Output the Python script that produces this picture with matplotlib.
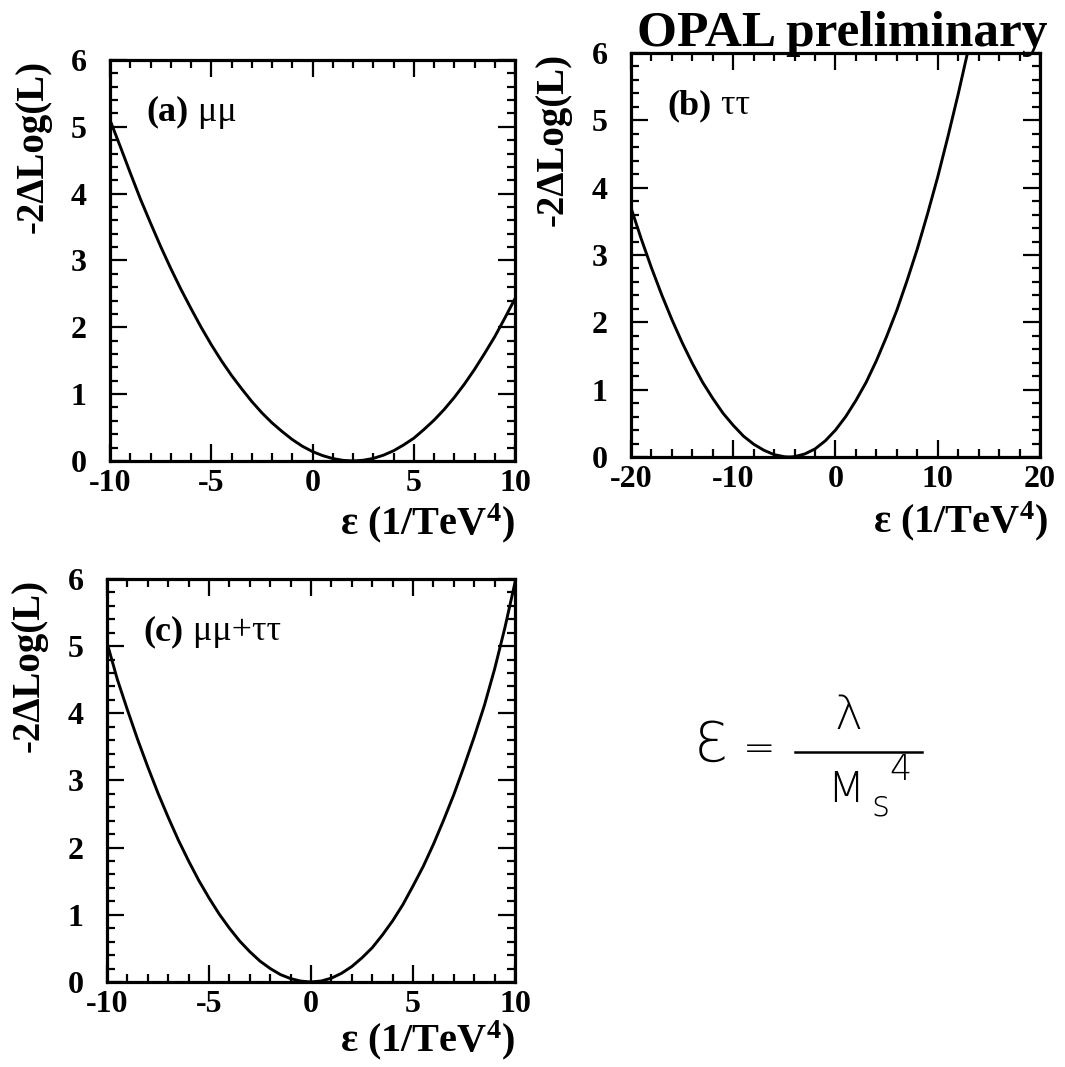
import matplotlib
matplotlib.use('Agg')
import matplotlib.pyplot as plt
from matplotlib.ticker import MultipleLocator
from matplotlib.lines import Line2D

plt.rcParams['font.family'] = ['Liberation Serif', 'DejaVu Serif']
plt.rcParams['font.weight'] = 'bold'
plt.rcParams['axes.unicode_minus'] = False
plt.rcParams['mathtext.fontset'] = 'custom'
plt.rcParams['mathtext.rm'] = 'Liberation Serif:bold'
plt.rcParams['mathtext.it'] = 'Liberation Serif:bold'
plt.rcParams['mathtext.bf'] = 'Liberation Serif:bold'

# -2 delta log(L) scans versus epsilon (1/TeV^4)
eps_mumu = [-10, -9.5, -9, -8.5, -8, -7.5, -7, -6.5, -6, -5.5, -5, -4.5, -4, -3.5,
            -3, -2.5, -2, -1.5, -1, -0.5, 0, 0.5, 1, 1.5, 2, 2.5, 3, 3.5, 4, 4.5,
            5, 5.5, 6, 6.5, 7, 7.5, 8, 8.5, 9, 9.5, 10]
nll_mumu = [5.10, 4.71, 4.31, 3.92, 3.56, 3.21, 2.88, 2.57, 2.28, 2.00, 1.74, 1.50,
            1.28, 1.08, 0.89, 0.72, 0.57, 0.44, 0.32, 0.22, 0.14, 0.08, 0.036, 0.009,
            0.0, 0.01, 0.038, 0.086, 0.152, 0.24, 0.34, 0.47, 0.61, 0.77, 0.95, 1.15,
            1.37, 1.61, 1.86, 2.14, 2.43]

eps_tautau = [-20, -19, -18, -17, -16, -15, -14, -13, -12, -11, -10, -9, -8, -7, -6,
              -5, -4.5, -4, -3, -2, -1, 0, 1, 2, 3, 4, 5, 6, 7, 8, 9, 10, 11, 12, 13]
nll_tautau = [3.70, 3.24, 2.81, 2.41, 2.04, 1.70, 1.39, 1.11, 0.87, 0.65, 0.47, 0.31,
              0.19, 0.10, 0.035, 0.004, 0.0, 0.005, 0.045, 0.12, 0.24, 0.40, 0.60, 0.84,
              1.11, 1.43, 1.79, 2.18, 2.62, 3.09, 3.61, 4.16, 4.76, 5.39, 6.06]

eps_comb = [-10, -9.5, -9, -8.5, -8, -7.5, -7, -6.5, -6, -5.5, -5, -4.5, -4, -3.5,
            -3, -2.5, -2, -1.5, -1, -0.5, 0, 0.5, 1, 1.5, 2, 2.5, 3, 3.5, 4, 4.5,
            5, 5.5, 6, 6.5, 7, 7.5, 8, 8.5, 9, 9.5, 10]
nll_comb = [5.05, 4.51, 4.05, 3.61, 3.20, 2.81, 2.45, 2.11, 1.80, 1.51, 1.25, 1.01,
            0.80, 0.61, 0.45, 0.31, 0.20, 0.11, 0.05, 0.0125, 0.0, 0.014, 0.057, 0.13,
            0.23, 0.36, 0.51, 0.70, 0.91, 1.15, 1.43, 1.72, 2.05, 2.41, 2.79, 3.21,
            3.65, 4.12, 4.66, 5.27, 5.95]

fig = plt.figure(figsize=(10.65, 10.67), dpi=100)

ax_a = fig.add_axes([0.1033, 0.5680, 0.3803, 0.3758])
ax_b = fig.add_axes([0.5925, 0.5717, 0.3840, 0.3786])
ax_c = fig.add_axes([0.1005, 0.0797, 0.3831, 0.3777])


def style(ax, xlim, xmaj, xmin, tag, chan, xlab_x=1.0, xlab_y=-0.10):
    ax.set_xlim(*xlim)
    ax.set_ylim(0, 6)
    ax.xaxis.set_major_locator(MultipleLocator(xmaj))
    ax.xaxis.set_minor_locator(MultipleLocator(xmin))
    ax.yaxis.set_major_locator(MultipleLocator(1))
    ax.yaxis.set_minor_locator(MultipleLocator(0.2))
    ax.tick_params(which='both', direction='in', top=True, right=True, width=1.6)
    ax.tick_params(which='major', length=12)
    ax.tick_params(which='minor', length=6)
    ax.tick_params(axis='x', which='major', labelsize=23, pad=6)
    ax.tick_params(axis='y', which='major', labelsize=23, pad=17)
    for sp in ax.spines.values():
        sp.set_linewidth(2.3)
    ax.text(-0.19, 1.0, '-2ΔLog(L)', transform=ax.transAxes, rotation=90,
            ha='center', va='top', fontsize=28)
    ax.text(xlab_x, xlab_y, 'ε (1/TeV$^4$)', transform=ax.transAxes,
            ha='right', va='top', fontsize=29)
    t = ax.text(0.09, 0.87, tag, transform=ax.transAxes, fontsize=26, va='center')
    ax.annotate(' ' + chan, xy=(1, 0), xycoords=t, va='bottom', fontsize=26,
                fontweight='normal')


ax_a.plot(eps_mumu, nll_mumu, color='black', lw=2.1)
style(ax_a, (-10, 10), 5, 1, '(a)', 'μμ')

ax_b.plot(eps_tautau, nll_tautau, color='black', lw=2.1)
style(ax_b, (-20, 20), 10, 2, '(b)', 'ττ', xlab_x=1.02, xlab_y=-0.105)

ax_c.plot(eps_comb, nll_comb, color='black', lw=2.1)
style(ax_c, (-10, 10), 5, 1, '(c)', 'μμ+ττ', xlab_y=-0.09)

fig.text(637 / 1065, 1 - 46 / 1067, 'OPAL preliminary', fontsize=37,
         ha='left', va='baseline')

# hand-written definition of epsilon
hand = dict(family='DejaVu Sans', fontweight='light', color='black')
fig.text(711 / 1065, 1 - 746 / 1067, 'Ɛ', fontsize=40, ha='center', va='center', **hand)
fig.text(759 / 1065, 1 - 749 / 1067, '=', fontsize=28, ha='center', va='center', **hand)
fig.text(848 / 1065, 1 - 716 / 1067, 'λ', fontsize=34, ha='center', va='center', **hand)
fig.text(846 / 1065, 1 - 789 / 1067, 'M', fontsize=31, ha='center', va='center', **hand)
fig.text(880 / 1065, 1 - 805 / 1067, 's', fontsize=25, ha='center', va='center', **hand)
fig.text(900 / 1065, 1 - 770 / 1067, '4', fontsize=25, ha='center', va='center', **hand)
fig.add_artist(Line2D([795 / 1065, 922 / 1065], [1 - 752 / 1067, 1 - 752 / 1067],
                      transform=fig.transFigure, color='black', lw=1.8))

fig.savefig('out.png', dpi=100)
